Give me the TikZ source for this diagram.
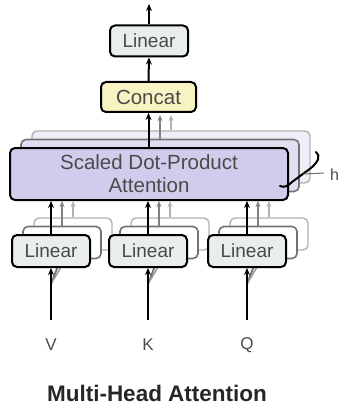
\documentclass[tikz,border=0pt]{standalone}
\usepackage{fontspec}
\setmainfont{Liberation Sans}
\usetikzlibrary{arrows.meta}
\definecolor{txt}{HTML}{4A4A4A}
\definecolor{linfill}{HTML}{E9EDED}
\definecolor{catfill}{HTML}{F8F3C2}
\definecolor{sdpfill}{HTML}{D2CCEC}
\definecolor{sdpmid}{HTML}{E2DEF2}
\definecolor{sdpback}{HTML}{EFEEF6}
\tikzset{
  box/.style={draw=black, line width=2pt, rounded corners=5pt, inner sep=0pt,
    font=\fontsize{19}{21}\selectfont, text=txt},
  linbox/.style={box, fill=linfill, minimum width=78pt, minimum height=32pt},
  ghostA/.style={draw=black!55, line width=1.6pt, rounded corners=5pt, inner sep=0pt},
  ghostB/.style={draw=black!30, line width=1.4pt, rounded corners=5pt, inner sep=0pt},
  arr/.style={line width=2pt, -{Stealth[length=7pt,width=6pt]}},
  garrA/.style={draw=black!50, line width=1.6pt, -{Stealth[length=6pt,width=5pt]}},
  garrB/.style={draw=black!30, line width=1.4pt, -{Stealth[length=6pt,width=5pt]}},
  inlabel/.style={text=txt, font=\fontsize{17}{19}\selectfont},
}
\begin{document}
\begin{tikzpicture}[x=1pt,y=-1pt]
\useasboundingbox (0,0) rectangle (341,406);

% scaled dot-product attention: stack of h layers
\node[ghostB, fill=sdpback, minimum width=278pt, minimum height=52pt] (sdp2) at (171,157) {};
\node[ghostA, fill=sdpmid, minimum width=278pt, minimum height=52pt] (sdp1) at (160,165.5) {};
\node[box, fill=sdpfill, minimum width=278pt, minimum height=52pt, align=center,
  font=\fontsize{20.5}{23}\selectfont] (sdp) at (149,174) {Scaled Dot-Product\\Attention};

% the three linear projections, each a stack of h layers
\foreach \n/\x/\lab in {v/51/V, k/148/K, q/247/Q}{
  \coordinate (in\n) at (\x,320);
  \coordinate (split\n) at (\x,284);
  \draw[black!55, line width=1.8pt] (split\n) -- ++(10,-26);
  \draw[black!40, line width=1.5pt] (split\n) -- ++(20,-34);
  \node[ghostB, fill=white, minimum width=78pt, minimum height=32pt] (\n2) at (\x+22,234) {};
  \node[ghostA, fill=white, minimum width=78pt, minimum height=32pt] (\n1) at (\x+11,242.5) {};
  \node[linbox] (\n) at (\x,251) {Linear};
  \draw[arr] (in\n) -- (\n.south);
  \node[inlabel] (lab\n) at (\x,345) {\lab};
  \draw[garrB] (\n2.north) -- (\n2.north |- sdp.south);
  \draw[garrA] (\n1.north) -- (\n1.north |- sdp.south);
  \draw[arr] (\n.north) -- (\n.north |- sdp.south);
}

% concat and output projection
\node[box, fill=catfill, minimum width=95pt, minimum height=30pt,
  font=\fontsize{20.5}{22}\selectfont] (cat) at (148.5,97) {Concat};
\node[box, fill=linfill, minimum width=78pt, minimum height=31pt] (out) at (149,41) {Linear};
\coordinate (top) at (149,4);

\draw[garrB] (sdp2.north -| 171,0) -- (171,115);
\draw[garrA] (sdp1.north -| 160,0) -- (160,115);
\draw[arr] (sdp.north -| cat.south) -- (cat.south);
\draw[arr] (cat.north) -- (out.south);
\draw[arr] (out.north) -- (top);

% brace marking the h heads
\draw[line width=2pt, line cap=round]
  (316,152) .. controls (321,156) and (318,162) .. (311,168)
  -- (292,182) .. controls (288,186) and (284,188) .. (280,186);
\coordinate (tick) at (303,174);
\draw[black!55, line width=1pt] (tick) -- (324,173);
\node[inlabel, font=\fontsize{16}{18}\selectfont, anchor=west, inner sep=0pt] (hlab) at (330,175) {h};

\node[font=\bfseries\fontsize{22.5}{24}\selectfont, text=black!85] (title) at (157,393) {Multi-Head Attention};
\end{tikzpicture}
\end{document}
